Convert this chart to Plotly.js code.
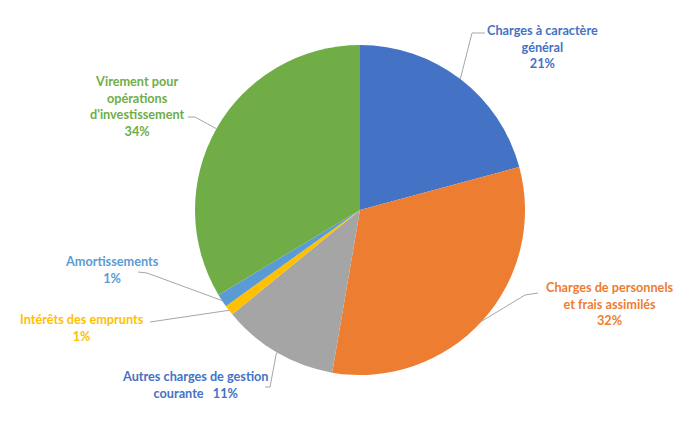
<!DOCTYPE html>
<html><head><meta charset="utf-8">
<script src="https://cdn.plot.ly/plotly-3.0.1.min.js"></script>
<style>html,body{margin:0;padding:0;background:#fff}#chart{width:677px;height:429px}</style>
</head><body><div id="chart"></div>
<script>
const categories = ["Charges à caractère général","Charges de personnels et frais assimilés","Autres charges de gestion courante","Intérêts des emprunts","Amortissements","Virement pour opérations d'investissement"];
const values = [20.8, 31.9, 11.4, 1.0, 1.3, 33.6];
const colors = ["#4472C4","#ED7D31","#A5A5A5","#FFC000","#5B9BD5","#70AD47"];
const labelColors = ["#4472C4","#ED7D31","#4472C4","#FFC000","#5B9BD5","#70AD47"];
const labelTexts = ["Charges à caractère<br>général","Charges de personnels<br>et frais assimilés","Autres charges de gestion<br>courante\u00a0\u00a0\u00a0","Intérêts des emprunts","Amortissements","Virement pour<br>opérations<br>d'investissement"];
const sep = ["<br>","<br>","","<br>","<br>","<br>"];

const W = 677, H = 429;
const cx = 360, cy = 210, r = 165;
// label centre positions (px) and elbow points (px)
const labelPos = [[542,47],[610,303],[195,384],[82,327],[112,269],[137,106]];
const elbows = [[[472,33],[485,33]],[[525,295],[538,293]],[[276,355],[270,387],[265,387]],[[150,322]],[[147,273],[138,272]],[[195,117],[188,117]]];

const total = values.reduce((a,b)=>a+b,0);
const px = x => x / W, py = y => 1 - y / H;

const annotations = [], shapes = [];
let cum = 0;
values.forEach((v,i)=>{
  const mid = (cum + v/2) / total * 2 * Math.PI; cum += v;
  const ex = cx + r * Math.sin(mid), ey = cy - r * Math.cos(mid);
  const pct = Math.round(v / total * 100) + '%';
  annotations.push({x: px(labelPos[i][0]), y: py(labelPos[i][1]), xref:'paper', yref:'paper',
    text: '<b>' + labelTexts[i] + sep[i] + pct + '</b>', showarrow:false, align:'center',
    xanchor:'center', yanchor:'middle', font:{family:'Lato, Calibri, sans-serif', size:12.7, color: labelColors[i]}});
  let pts = [[ex,ey]].concat(elbows[i]);
  for (let k=0;k<pts.length-1;k++){
    shapes.push({type:'line', xref:'paper', yref:'paper', x0:px(pts[k][0]), y0:py(pts[k][1]), x1:px(pts[k+1][0]), y1:py(pts[k+1][1]), line:{color:'#A6A6A6', width:1}});
  }
});

const data = [{type:'pie', labels:categories, values:values, sort:false, direction:'clockwise', rotation:0,
  marker:{colors:colors, line:{width:0}}, textinfo:'none', hoverinfo:'label+percent',
  domain:{x:[px(cx-r), px(cx+r)], y:[py(cy+r), py(cy-r)]}}];
const layout = {width:W, height:H, margin:{l:0,r:0,t:0,b:0}, showlegend:false,
  paper_bgcolor:'#fff', annotations:annotations, shapes:shapes};
Plotly.newPlot('chart', data, layout, {displayModeBar:false, staticPlot:true});
</script></body></html>
